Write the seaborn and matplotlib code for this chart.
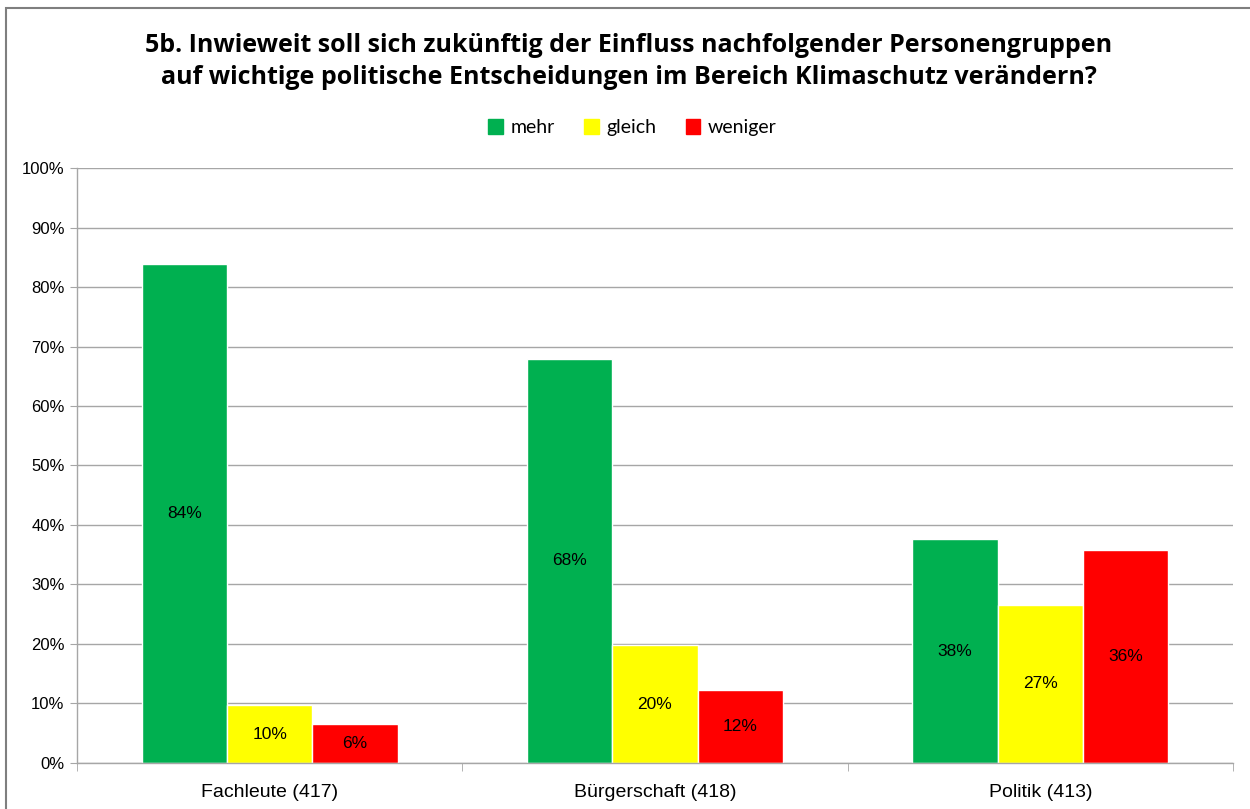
import matplotlib
matplotlib.use("Agg")
import matplotlib.pyplot as plt
import numpy as np
import pandas as pd
import seaborn as sns

groups = ["Fachleute (417)", "Bürgerschaft (418)", "Politik (413)"]
answers = ["mehr", "gleich", "weniger"]
mehr = [83.9, 67.9, 37.6]
gleich = [9.7, 19.8, 26.6]
weniger = [6.5, 12.3, 35.8]
colors = ["#00B050", "#FFFF00", "#FF0000"]

df = pd.DataFrame({
    "gruppe": groups * 3,
    "antwort": np.repeat(answers, 3),
    "anteil": mehr + gleich + weniger,
})

sns.set_style("white")
plt.rcParams["font.family"] = ["Liberation Sans", "DejaVu Sans"]
plt.rcParams["text.color"] = "black"
plt.rcParams["xtick.labelcolor"] = "black"
plt.rcParams["ytick.labelcolor"] = "black"

fig = plt.figure(figsize=(12.5, 8.09), dpi=100)
ax = fig.add_axes([0.0616, 0.0569, 0.9248, 0.7354])

sns.barplot(
    data=df, x="gruppe", y="anteil", hue="antwort",
    order=groups, hue_order=answers, palette=colors,
    width=0.664, gap=0, saturation=1, legend=False, ax=ax,
)

for cont in ax.containers:
    labels = [f"{b.get_height():.0f}%" for b in cont]
    ax.bar_label(cont, labels=labels, label_type="center", fontsize=12.5, color="black")

ax.set_ylim(0, 100)
ax.set_xlim(-0.5, 2.5)
ax.set_yticks(np.arange(0, 101, 10))
ax.set_yticklabels([f"{t}%" for t in range(0, 101, 10)], fontsize=12)
ax.yaxis.grid(True, color="#A6A6A6", linewidth=1)
ax.set_axisbelow(True)
ax.tick_params(axis="y", length=5, color="#A6A6A6", left=True, pad=4)
ax.tick_params(axis="x", which="major", length=0, labelsize=14, pad=15)
ax.set_xticks([-0.5, 0.5, 1.5, 2.5], minor=True)
ax.tick_params(axis="x", which="minor", length=6, color="#A6A6A6", bottom=True)
ax.set_xlabel("")
ax.set_ylabel("")
for side in ["top", "right"]:
    ax.spines[side].set_visible(False)
for side in ["left", "bottom"]:
    ax.spines[side].set_color("#A6A6A6")
    ax.spines[side].set_linewidth(1)

fig.text(
    0.503, 0.924,
    "5b. Inwieweit soll sich zukünftig der Einfluss nachfolgender Personengruppen\n"
    "auf wichtige politische Entscheidungen im Bereich Klimaschutz verändern?",
    ha="center", va="center", fontsize=18, fontweight="bold",
    family=["Open Sans", "DejaVu Sans"], linespacing=1.4, color="black",
)

handles = [plt.Rectangle((0, 0), 1, 1, color=c) for c in colors]
fig.legend(
    handles, answers, loc="center", bbox_to_anchor=(0.506, 0.842), ncol=3,
    frameon=False, handlelength=0.75, handleheight=0.75, handletextpad=0.4,
    columnspacing=1.5, prop={"family": "Lato", "size": 14},
)

fig.add_artist(plt.Rectangle((0.005, -0.05), 1.1, 1.04, transform=fig.transFigure,
                             fill=False, edgecolor="#7F7F7F", linewidth=1.5))

fig.savefig("out.png", dpi=100)
